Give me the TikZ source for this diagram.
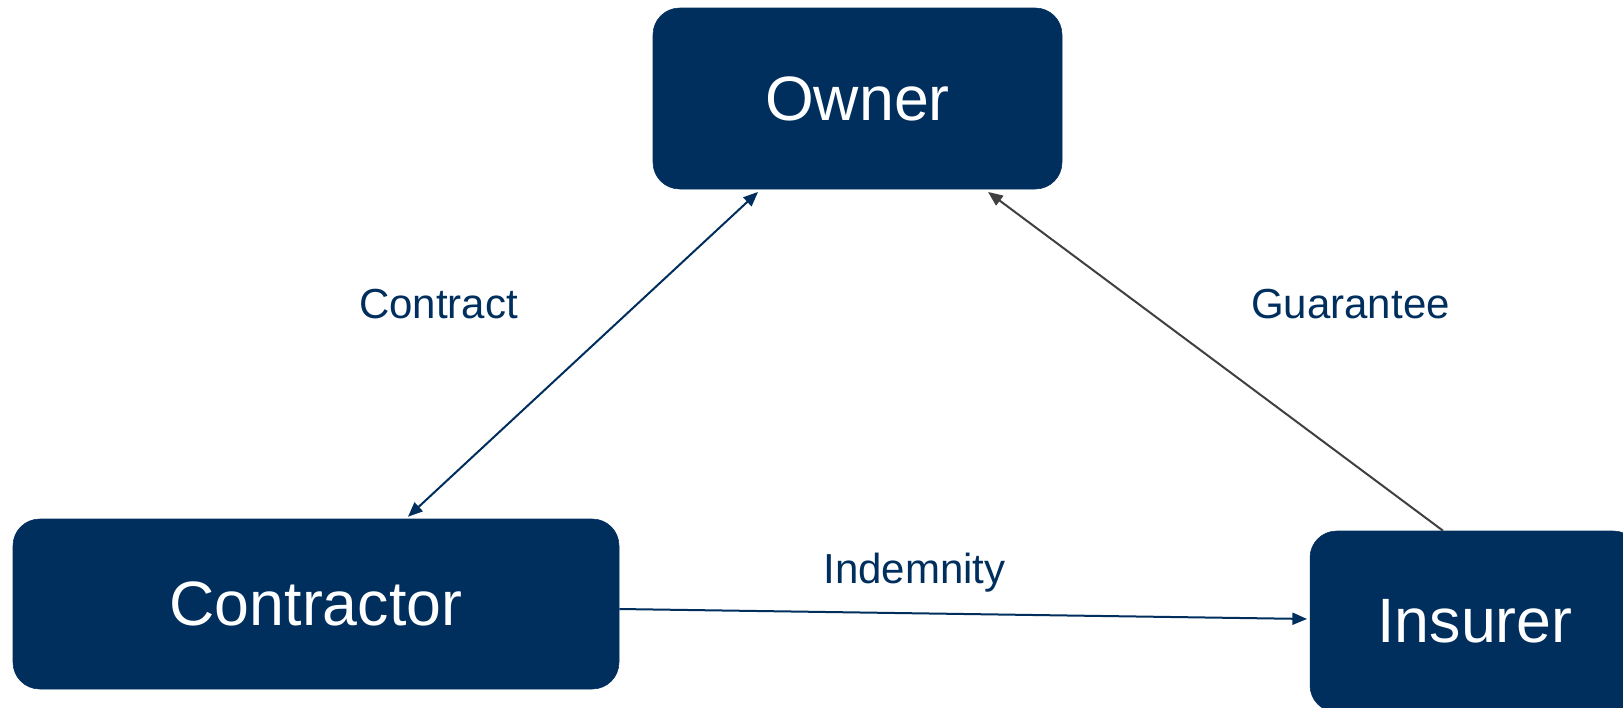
\documentclass[tikz,border=0pt]{standalone}
\usepackage{fontspec}
\setmainfont{Liberation Sans}
\usetikzlibrary{arrows.meta}
\definecolor{navy}{RGB}{0,47,94}
\definecolor{darkgray}{RGB}{64,64,64}
\tikzset{
  partybox/.style={rectangle, rounded corners=20pt, fill=navy, draw=navy,
    text=white, font=\fontsize{47pt}{56pt}\selectfont, inner sep=0pt},
  relabel/.style={text=navy, font=\fontsize{31.5pt}{38pt}\selectfont, anchor=base, inner sep=0pt},
  conn/.style={line width=1.5pt, draw=navy}
}
\begin{document}
\begin{tikzpicture}[x=0.75pt,y=-0.75pt]
\clip (0,0) rectangle (1623,707);
\fill[white] (0,0) rectangle (1623,707);
\node[partybox, minimum width=306.75pt, minimum height=135.75pt] (owner) at (857.5,98.5) {Owner};
\node[partybox, minimum width=454.5pt, minimum height=127.5pt] (contractor) at (316,604) {Contractor};
\node[partybox, minimum width=247.5pt, minimum height=135.75pt] (insurer) at (1475,621.5) {Insurer};
\node[relabel] (lcontract) at (438.5,318) {Contract};
\node[relabel] (lguarantee) at (1350.5,318) {Guarantee};
\node[relabel] (lindemnity) at (914.5,583) {Indemnity};
\draw[conn, {Triangle[length=11pt,width=9pt]}-{Triangle[length=11pt,width=9pt]}]
  ([xshift=-74.6pt,yshift=-2pt]owner.south) -- ([xshift=69pt,yshift=1.5pt]contractor.north);
\draw[conn, draw=darkgray, -{Triangle[length=11pt,width=9pt]}, darkgray]
  ([xshift=-24pt]insurer.north) -- ([xshift=97.9pt,yshift=-2pt]owner.south);
\draw[conn, -{Triangle[length=11pt,width=9pt]}, navy]
  ([yshift=-3.75pt]contractor.east) -- ([xshift=-2pt,yshift=1.9pt]insurer.west);
\end{tikzpicture}
\end{document}
